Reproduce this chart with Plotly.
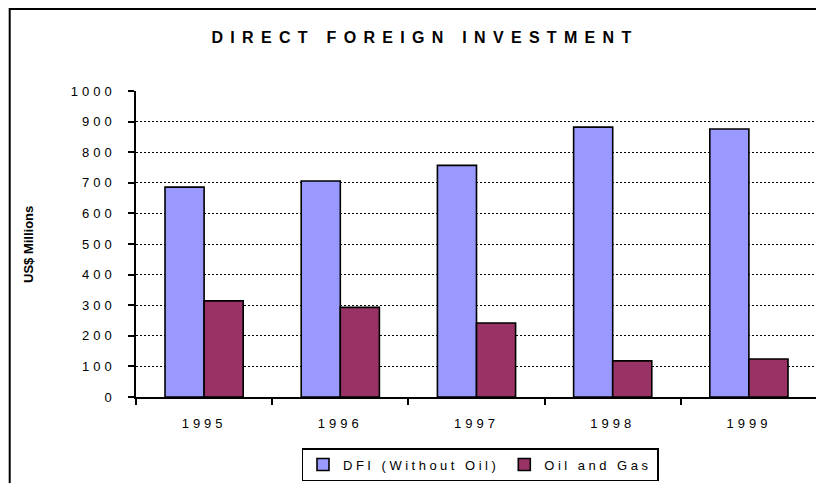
import plotly.graph_objects as go

years = ["1995", "1996", "1997", "1998", "1999"]
dfi_without_oil = [686, 706, 757, 882, 876]
oil_and_gas = [314, 293, 242, 118, 124]
y_ticks = [0, 100, 200, 300, 400, 500, 600, 700, 800, 900, 1000]

FONT = "Liberation Sans, Arial, sans-serif"

def spaced(s, px):
    return f'<span style="letter-spacing:{px}px">{s}</span>'

fig = go.Figure()
fig.add_trace(go.Bar(
    x=years, y=dfi_without_oil, name=spaced("DFI (Without Oil)", 3.5),
    marker=dict(color="#9999FF", line=dict(color="black", width=1.6)),
))
fig.add_trace(go.Bar(
    x=years, y=oil_and_gas, name=spaced("Oil and Gas", 3.5),
    marker=dict(color="#993366", line=dict(color="black", width=1.6)),
))

# the page body adds an 8px offset; figure coordinates are window - 8
W, H = 816, 475
L, R, T, B = 128, 7, 83, 86
pw = W - L - R
ph = H - T - B

def px_x(x):  # figure pixel -> paper x
    return (x - L) / pw

def px_y(y):  # figure pixel -> paper y
    return 1 - (y - T) / ph

fig.update_layout(
    width=W, height=H,
    margin=dict(l=L, r=R, t=T, b=B, autoexpand=False),
    paper_bgcolor="white", plot_bgcolor="white",
    barmode="group", bargap=0.426, bargroupgap=0,
    font=dict(family=FONT, size=13, color="black"),
    title=dict(
        text=spaced("DIRECT FOREIGN INVESTMENT", 7.3),
        x=417 / W, xref="container", xanchor="center",
        y=1 - 29 / H, yref="container", yanchor="middle",
        font=dict(family=FONT, size=16, color="black", weight="bold"),
    ),
    showlegend=True,
    legend=dict(
        orientation="h",
        x=px_x(472), xanchor="center",
        y=px_y(440), yanchor="top",
        bordercolor="black", borderwidth=1.5,
        font=dict(family=FONT, size=13, color="black"),
        traceorder="normal",
    ),
    xaxis=dict(
        type="category", automargin=False,
        showline=True, linecolor="black", linewidth=1.5,
        ticks="outside", ticklen=6, tickcolor="black", tickwidth=1.5,
        tickson="boundaries",
        tickvals=years, ticktext=[spaced(y, 4) for y in years],
        ticklabelstandoff=14,
        showgrid=False,
    ),
    yaxis=dict(
        range=[0, 1000], automargin=False,
        tickvals=y_ticks, ticktext=[spaced(str(v), 4) for v in y_ticks],
        showline=True, linecolor="black", linewidth=1.5,
        ticks="outside", ticklen=6, tickcolor="black", tickwidth=1.5,
        showgrid=True, gridcolor="black", gridwidth=1.2, griddash="2px,2px",
        zeroline=False,
        ticklabelstandoff=10,
    ),
    annotations=[dict(
        text="<b>US$ Millions</b>", textangle=-90,
        xref="paper", yref="paper",
        x=px_x(20), y=px_y(236),
        xanchor="center", yanchor="middle", showarrow=False,
        font=dict(family=FONT, size=13, color="black"),
    )],
    shapes=[dict(
        type="rect", xref="paper", yref="paper",
        x0=px_x(1.7), x1=1.2,
        y0=-0.5, y1=px_y(1),
        line=dict(color="black", width=2), fillcolor="rgba(0,0,0,0)",
        layer="above",
    )],
)

fig.write_html("out.html")
